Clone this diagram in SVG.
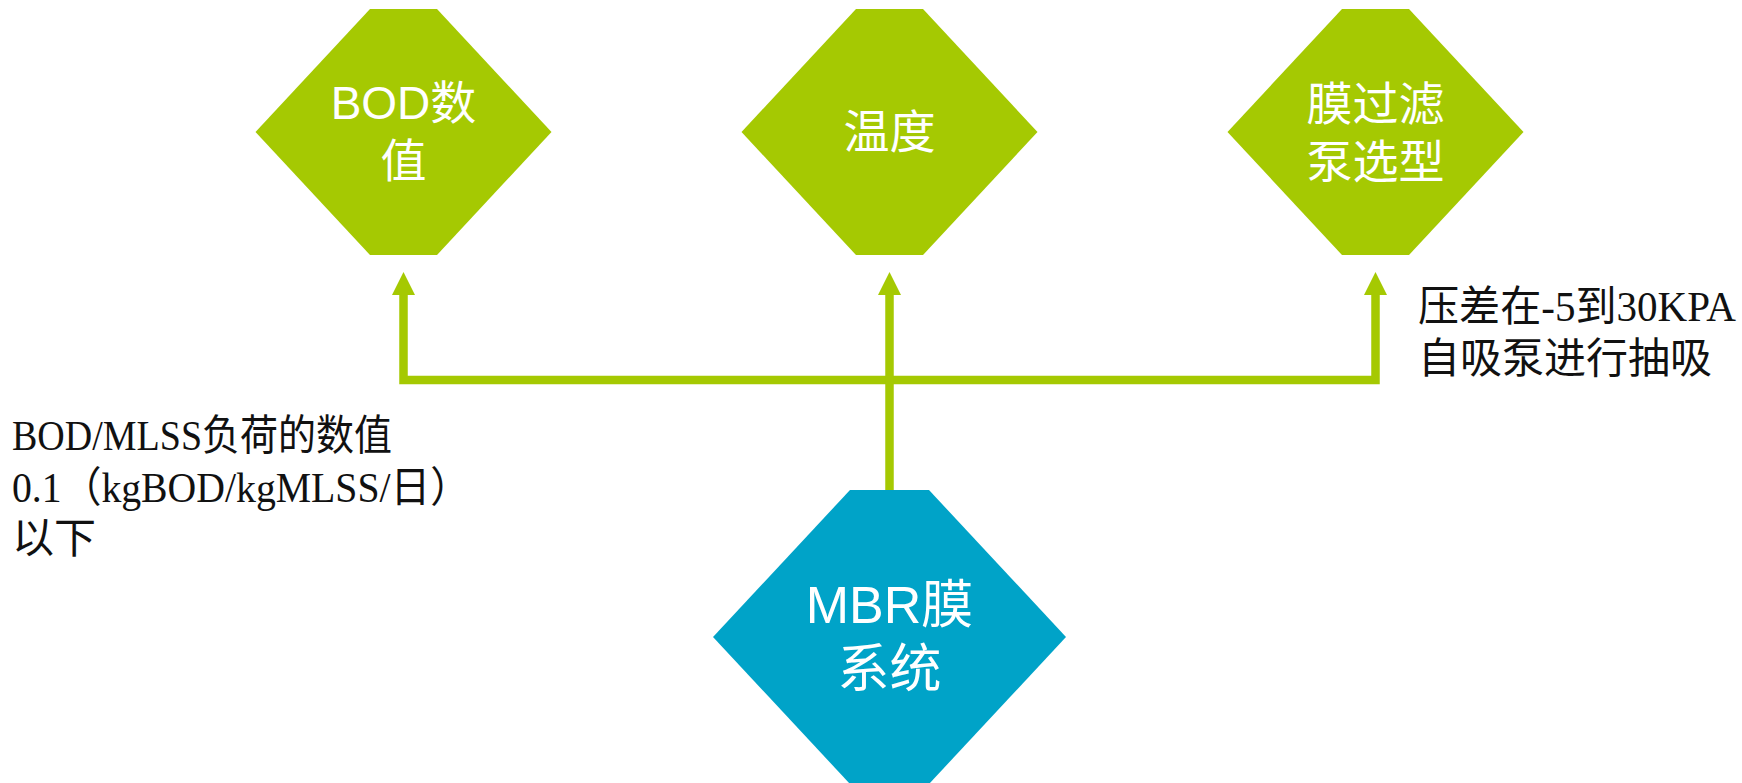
<svg xmlns="http://www.w3.org/2000/svg" width="1742" height="783" viewBox="0 0 1742 783">
<style>
.g{fill:#A5C902}
.b{fill:#00A3C8}
.nt{fill:#ffffff;font-family:"Liberation Sans","Noto Sans CJK SC",sans-serif;text-anchor:middle}
.lt{fill:#111111;font-family:"Liberation Serif","Noto Sans CJK SC",serif;font-size:42px}
.c{fill:none;stroke:#A5C902;stroke-width:8.5;stroke-linejoin:miter}
</style>
<defs>
<marker id="ah" viewBox="0 0 23 23" markerUnits="userSpaceOnUse" markerWidth="23" markerHeight="23" refX="0" refY="11.5" orient="auto-start-reverse">
<path d="M0,0 L23,11.5 L0,23 Z" fill="#A5C902"/>
</marker>
</defs>
<rect width="1742" height="783" fill="#ffffff"/>
<g id="connectors">
<path class="c" d="M403.5,295 V380 H1375.5 V295" marker-start="url(#ah)" marker-end="url(#ah)"/>
<path class="c" d="M889.5,490 V295" marker-end="url(#ah)"/>
</g>
<g id="node-bod">
<polygon class="g" points="370,9 437,9 551.5,132 437,255 370,255 255.5,132"/>
<text class="nt" font-size="46" x="403.5" y="119">BOD数</text>
<text class="nt" font-size="46" x="403.5" y="177">值</text>
</g>
<g id="node-temp">
<polygon class="g" points="856,9 923,9 1037.5,132 923,255 856,255 741.5,132"/>
<text class="nt" font-size="46" x="889.5" y="148">温度</text>
</g>
<g id="node-pump">
<polygon class="g" points="1342,9 1409,9 1523.5,132 1409,255 1342,255 1227.5,132"/>
<text class="nt" font-size="46" x="1375.5" y="120">膜过滤</text>
<text class="nt" font-size="46" x="1375.5" y="178">泵选型</text>
</g>
<g id="node-mbr">
<polygon class="b" points="850,490 929,490 1066,637 929,784 850,784 713,637"/>
<text class="nt" font-size="52" x="889.5" y="623">MBR膜</text>
<text class="nt" font-size="52" x="889.5" y="687">系统</text>
</g>
<g id="label-left">
<text class="lt" x="12" y="450" textLength="380" lengthAdjust="spacingAndGlyphs">BOD/MLSS负荷的数值</text>
<text class="lt" x="12" y="502" textLength="458" lengthAdjust="spacingAndGlyphs">0.1（kgBOD/kgMLSS/日）</text>
<text class="lt" x="12" y="553">以下</text>
</g>
<g id="label-right">
<text class="lt" x="1418" y="321" textLength="318" lengthAdjust="spacingAndGlyphs">压差在-5到30KPA</text>
<text class="lt" x="1418" y="373" textLength="294" lengthAdjust="spacingAndGlyphs">自吸泵进行抽吸</text>
</g>
</svg>
